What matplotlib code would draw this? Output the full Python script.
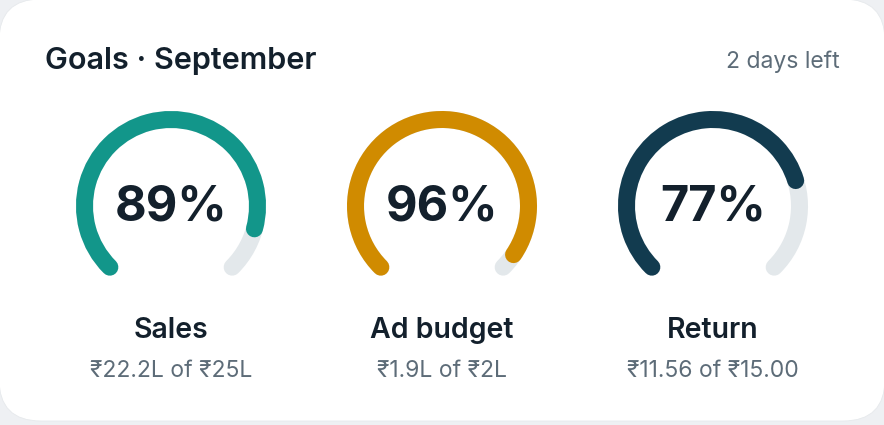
import numpy as np
import matplotlib.pyplot as plt
from matplotlib.patches import Arc, FancyBboxPatch

plt.rcParams['font.family'] = ['Inter', 'DejaVu Sans']

# data
title = "Goals · September"
note = "2 days left"
labels = ["Sales", "Ad budget", "Return"]
percents = [89, 96, 77]
details = ["₹22.2L of ₹25L", "₹1.9L of ₹2L", "₹11.56 of ₹15.00"]
colors = ["#12968a", "#d08b00", "#123b4f"]

W, H = 884, 425
fig = plt.figure(figsize=(W / 100, H / 100), dpi=100)
fig.patch.set_facecolor("#eef0f3")
ax = fig.add_axes([0, 0, 1, 1])
ax.set_xlim(0, W)
ax.set_ylim(0, H)
ax.axis("off")

# card (rounded white panel)
rad = 42
x0, x1 = -1, 885
ytop, ybot = H + 1, H - 421
card = FancyBboxPatch((x0 + rad, ybot + rad), x1 - x0 - 2 * rad, ytop - ybot - 2 * rad,
                      boxstyle=f"round,pad={rad}", fc="white", ec="#e6e9ec", lw=0.6)
ax.add_patch(card)

dark = "#13202c"
grey = "#5d6c78"

ax.text(45, H - 61, title, fontsize=22, fontweight="semibold", color=dark,
        ha="left", va="center")
ax.text(840, H - 62, note, fontsize=16.5, color=grey, ha="right", va="center")

# gauges
centers = [171, 442, 713]
cy = H - 206
r = 86.5
lw = 17 * 0.72
sweep = 270
for cx, p, c, lab, det in zip(centers, percents, colors, labels, details):
    track = Arc((cx, cy), 2 * r, 2 * r, theta1=225 - sweep, theta2=225,
                color="#e3e8eb", lw=lw, capstyle="round")
    ax.add_patch(track)
    arc = Arc((cx, cy), 2 * r, 2 * r, theta1=225 - sweep * p / 100, theta2=225,
              color=c, lw=lw, capstyle="round")
    ax.add_patch(arc)
    ax.text(cx, cy - 1, f"{p}%", fontsize=35, fontweight="bold", color=dark,
            ha="center", va="center")
    ax.text(cx, H - 331, lab, fontsize=20.5, fontweight="semibold", color=dark,
            ha="center", va="center")
    ax.text(cx, H - 371, det, fontsize=16.5, color=grey, ha="center", va="center")

fig.savefig("out.png", dpi=100, facecolor=fig.get_facecolor())
